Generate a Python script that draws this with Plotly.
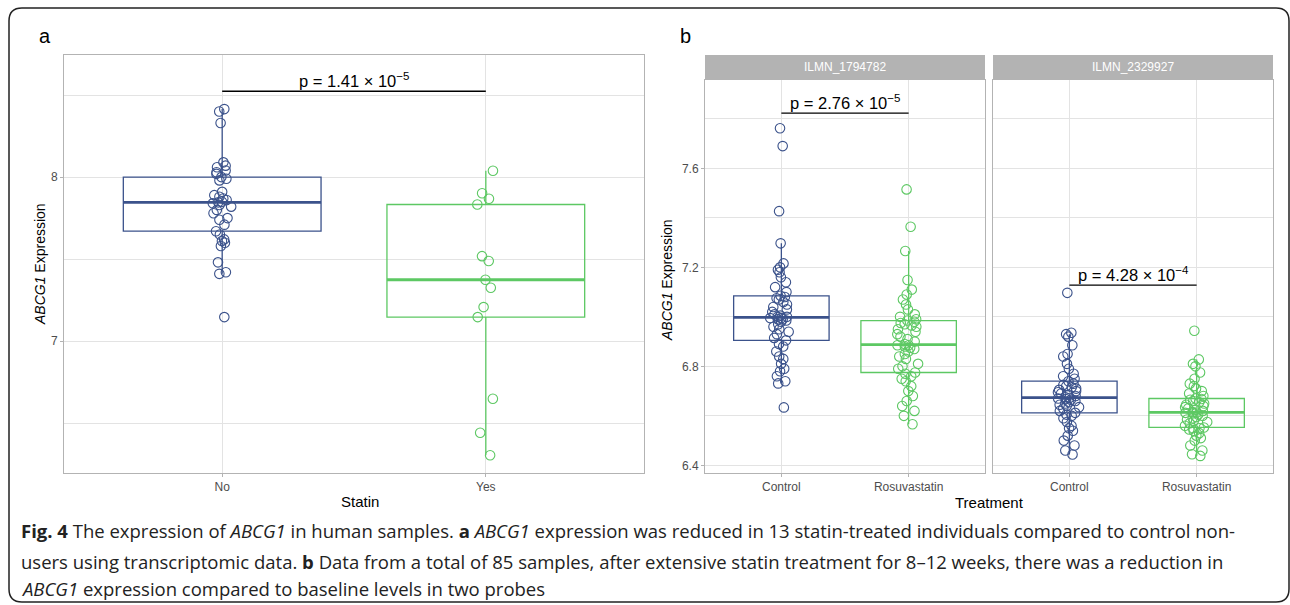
import numpy as np
import plotly.graph_objects as go

W, H = 1290, 605

# ---------------- data ----------------
# Panel a
statin_groups = ["No", "Yes"]
statin_no = [7.146, 7.41, 7.42, 7.48, 7.58, 7.60, 7.61, 7.62, 7.65, 7.67,
             7.71, 7.74, 7.75, 7.78, 7.80, 7.82, 7.83, 7.84, 7.846, 7.85,
             7.86, 7.87, 7.88, 7.89, 7.91, 7.98, 7.99, 8.00, 8.02, 8.03,
             8.04, 8.06, 8.07, 8.09, 8.33, 8.40, 8.415]
statin_yes = [6.303, 6.441, 6.648, 7.146, 7.207, 7.325, 7.374, 7.488, 7.518,
              7.833, 7.868, 7.902, 8.039]
p_a_text = "p = 1.41 × 10<sup>−5</sup>"
p_a_y = 8.524

# Panel b
probes = ["ILMN_1794782", "ILMN_2329927"]
treatments = ["Control", "Rosuvastatin"]
ilmn1794782_control = [6.634, 6.731, 6.74, 6.76, 6.78, 6.79, 6.81, 6.83, 6.84, 6.86,
                       6.88, 6.89, 6.905, 6.915, 6.93, 6.94, 6.95, 6.96, 6.97, 6.98,
                       6.985, 6.99, 6.99, 6.995, 6.995, 7.00, 7.00, 7.005, 7.01, 7.02,
                       7.03, 7.04, 7.05, 7.06, 7.07, 7.075, 7.08, 7.085, 7.10, 7.12,
                       7.14, 7.16, 7.18, 7.19, 7.20, 7.216, 7.297, 7.427, 7.690, 7.762]
ilmn1794782_rosuva = [6.566, 6.60, 6.62, 6.64, 6.66, 6.68, 6.70, 6.72, 6.74, 6.75,
                      6.76, 6.77, 6.775, 6.79, 6.80, 6.81, 6.83, 6.84, 6.85, 6.86,
                      6.87, 6.875, 6.88, 6.885, 6.885, 6.89, 6.90, 6.91, 6.92, 6.93,
                      6.94, 6.95, 6.96, 6.965, 6.97, 6.975, 6.98, 6.985, 6.99, 7.00,
                      7.01, 7.03, 7.05, 7.07, 7.09, 7.11, 7.149, 7.266, 7.364, 7.515]
ilmn2329927_control = [6.444, 6.46, 6.48, 6.50, 6.52, 6.54, 6.55, 6.56, 6.575, 6.59,
                       6.60, 6.605, 6.612, 6.62, 6.63, 6.635, 6.64, 6.645, 6.65, 6.655,
                       6.66, 6.665, 6.668, 6.67, 6.672, 6.675, 6.68, 6.685, 6.69, 6.695,
                       6.70, 6.705, 6.71, 6.715, 6.72, 6.725, 6.73, 6.74, 6.75, 6.76,
                       6.77, 6.79, 6.81, 6.84, 6.85, 6.885, 6.92, 6.93, 6.936, 7.097]
ilmn2329927_rosuva = [6.438, 6.445, 6.46, 6.48, 6.50, 6.51, 6.52, 6.53, 6.54, 6.545,
                      6.55, 6.55, 6.553, 6.56, 6.57, 6.575, 6.58, 6.585, 6.59, 6.595,
                      6.60, 6.605, 6.61, 6.612, 6.613, 6.615, 6.62, 6.625, 6.63, 6.635,
                      6.64, 6.645, 6.65, 6.655, 6.66, 6.665, 6.668, 6.67, 6.68, 6.69,
                      6.70, 6.71, 6.72, 6.73, 6.75, 6.775, 6.80, 6.81, 6.828, 6.944]
p_b_texts = ["p = 2.76 × 10<sup>−5</sup>", "p = 4.28 × 10<sup>−4</sup>"]
p_b_y = [7.823, 7.128]

caption_lines = [
    "<b>Fig. 4</b> The expression of <i>ABCG1</i> in human samples. <b>a</b> <i>ABCG1</i> expression was reduced in 13 statin-treated individuals compared to control non-",
    "users using transcriptomic data. <b>b</b> Data from a total of 85 samples, after extensive statin treatment for 8–12 weeks, there was a reduction in",
    "<i>ABCG1</i> expression compared to baseline levels in two probes",
]

# ---------------- style ----------------
BLUE = "#3B528B"
GREEN = "#5DC863"
COLORS = [BLUE, GREEN]
FONT = "Liberation Sans"
GRID = "#E3E3E3"
BORDER = "#B3B3B3"
BOX_W = 0.75


def px_x(p):
    return p / W


def px_y(p):
    return 1 - p / H


fig = go.Figure()


def add_group(vals, xpos, color, xa, ya, jitter):
    fig.add_trace(go.Box(
        y=vals, x=[xpos] * len(vals), width=BOX_W,
        boxpoints="all", jitter=jitter, pointpos=0,
        marker=dict(symbol="circle-open", size=9.5, color=color,
                    line=dict(width=1.1, color=color)),
        line=dict(color=color, width=1.3), fillcolor="rgba(0,0,0,0)",
        whiskerwidth=0, quartilemethod="inclusive",
        xaxis=xa, yaxis=ya, showlegend=False, hoverinfo="skip"))
    med = float(np.median(vals))
    fig.add_trace(go.Scatter(
        x=[xpos - BOX_W / 2, xpos + BOX_W / 2], y=[med, med], mode="lines",
        line=dict(color=color, width=2.8), xaxis=xa, yaxis=ya,
        showlegend=False, hoverinfo="skip"))


# panel a
for i, vals in enumerate([statin_no, statin_yes]):
    add_group(vals, i + 1, COLORS[i], "x", "y", 0.12)

# panel b
probe_data = [[ilmn1794782_control, ilmn1794782_rosuva],
              [ilmn2329927_control, ilmn2329927_rosuva]]
for f, groups in enumerate(probe_data):
    xa = "x2" if f == 0 else "x3"
    ya = "y2" if f == 0 else "y3"
    for i, vals in enumerate(groups):
        add_group(vals, i + 1, COLORS[i], xa, ya, 0.28)

# axes
base = dict(showgrid=True, gridcolor=GRID, gridwidth=1, zeroline=False,
            showline=True, linecolor=BORDER, linewidth=1, mirror=True,
            ticks="outside", ticklen=3, tickcolor=BORDER, automargin=False,
            tickfont=dict(family=FONT, size=12, color="#4D4D4D"))

xcat = dict(base, range=[0.4, 2.6], tickmode="array", tickvals=[1, 2])

y_bot = px_y(473)
fig.update_layout(
    template="none",
    width=W, height=H, margin=dict(l=0, r=0, t=0, b=0, pad=0),
    paper_bgcolor="white", plot_bgcolor="white",
    xaxis=dict(xcat, domain=[px_x(64), px_x(644)], ticktext=statin_groups, anchor="y"),
    yaxis=dict(base, domain=[y_bot, px_y(55)], range=[6.195, 8.745],
               tick0=0, dtick=1, anchor="x",
               minor=dict(dtick=0.5, showgrid=True, gridcolor=GRID, gridwidth=0.6)),
    xaxis2=dict(xcat, domain=[px_x(705), px_x(985)], ticktext=treatments, anchor="y2"),
    yaxis2=dict(base, domain=[y_bot, px_y(80)], range=[6.369, 7.957],
                tick0=0, dtick=0.4, anchor="x2",
                minor=dict(dtick=0.2, showgrid=True, gridcolor=GRID, gridwidth=0.6)),
    xaxis3=dict(xcat, domain=[px_x(993), px_x(1273)], ticktext=treatments, anchor="y3"),
    yaxis3=dict(base, domain=[y_bot, px_y(80)], range=[6.369, 7.957],
                tick0=0, dtick=0.4, anchor="x3", showticklabels=False, ticks="",
                minor=dict(dtick=0.2, showgrid=True, gridcolor=GRID, gridwidth=0.6)),
)

shapes = []
annotations = []

# significance brackets
brackets = [("x", "y", p_a_y, p_a_text)] + [
    ("x2" if f == 0 else "x3", "y2" if f == 0 else "y3", p_b_y[f], p_b_texts[f])
    for f in range(2)]
for xa, ya, yv, txt in brackets:
    shapes.append(dict(type="line", xref=xa, yref=ya, x0=1, x1=2, y0=yv, y1=yv,
                       line=dict(color="black", width=1.3)))
    annotations.append(dict(xref=xa, yref=ya, x=1.5, y=yv, text=txt, showarrow=False,
                            xanchor="center", yanchor="bottom", yshift=-1,
                            font=dict(family=FONT, size=16.5, color="black")))


def label(xp, yp, text, size, color="black", angle=0, family=FONT):
    annotations.append(dict(xref="paper", yref="paper", x=px_x(xp), y=px_y(yp),
                            xanchor="center", yanchor="middle", text=text,
                            textangle=angle, showarrow=False,
                            font=dict(family=family, size=size, color=color)))


# facet strips
for f, (x0, x1) in enumerate([(705, 985), (993, 1273)]):
    shapes.append(dict(type="rect", xref="paper", yref="paper",
                       x0=px_x(x0), x1=px_x(x1), y0=px_y(80), y1=px_y(55),
                       fillcolor="#B3B3B3", line=dict(width=0)))
    label((x0 + x1) / 2, 67.5, probes[f], 12, color="white")

# axis titles and panel letters
label(40, 264, "<i>ABCG1</i> Expression", 14, angle=-90)
label(667, 280, "<i>ABCG1</i> Expression", 14, angle=-90)
label(360, 501, "Statin", 15)
label(989, 502, "Treatment", 15)
label(45, 36, "a", 20)
label(685, 36, "b", 20)

# caption
for line, ypx in zip(caption_lines, [530, 561, 588]):
    annotations.append(dict(xref="paper", yref="paper", x=px_x(19), y=px_y(ypx),
                            xanchor="left", yanchor="middle", text=line,
                            showarrow=False,
                            font=dict(family="Open Sans", size=18.5, color="#222222")))

# rounded outer frame
L, T, R, B, r = 9, 8, 1289, 602, 13
path = (f"M {px_x(L)},{px_y(T + r)} Q {px_x(L)},{px_y(T)} {px_x(L + r)},{px_y(T)} "
        f"L {px_x(R - r)},{px_y(T)} Q {px_x(R)},{px_y(T)} {px_x(R)},{px_y(T + r)} "
        f"L {px_x(R)},{px_y(B - r)} Q {px_x(R)},{px_y(B)} {px_x(R - r)},{px_y(B)} "
        f"L {px_x(L + r)},{px_y(B)} Q {px_x(L)},{px_y(B)} {px_x(L)},{px_y(B - r)} Z")
shapes.append(dict(type="path", xref="paper", yref="paper", path=path,
                   line=dict(color="#222222", width=1.5)))

fig.update_layout(shapes=shapes, annotations=annotations)
fig.write_html("out.html", config={"displayModeBar": False},
               post_script="document.body.style.margin='0px';document.body.style.overflow='hidden';")
